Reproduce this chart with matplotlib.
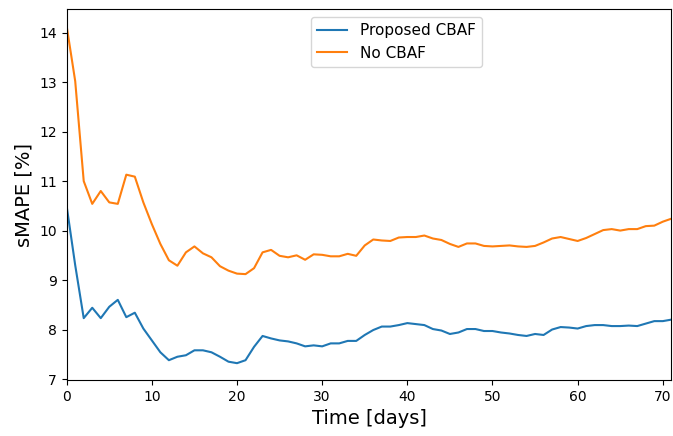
import numpy as np
import matplotlib
matplotlib.use("Agg")
import matplotlib.pyplot as plt

days = np.arange(0, 72)

smape_cbaf = [
    10.49, 9.30, 8.23, 8.44, 8.23, 8.46, 8.60, 8.25, 8.34, 8.02,
    7.78, 7.54, 7.38, 7.45, 7.48, 7.58, 7.58, 7.54, 7.45, 7.35,
    7.32, 7.38, 7.65, 7.87, 7.82, 7.78, 7.76, 7.72, 7.66, 7.68,
    7.66, 7.72, 7.72, 7.77, 7.77, 7.89, 7.99, 8.06, 8.06, 8.09,
    8.13, 8.11, 8.09, 8.01, 7.98, 7.91, 7.94, 8.01, 8.01, 7.97,
    7.97, 7.94, 7.92, 7.89, 7.87, 7.91, 7.89, 8.00, 8.05, 8.04,
    8.02, 8.07, 8.09, 8.09, 8.07, 8.07, 8.08, 8.07, 8.12, 8.17,
    8.17, 8.20,
]

smape_no_cbaf = [
    14.13, 13.02, 11.00, 10.54, 10.80, 10.57, 10.54, 11.13, 11.09, 10.57,
    10.13, 9.73, 9.40, 9.29, 9.56, 9.68, 9.54, 9.46, 9.28, 9.19,
    9.13, 9.12, 9.24, 9.56, 9.61, 9.49, 9.46, 9.50, 9.41, 9.52,
    9.51, 9.48, 9.48, 9.53, 9.49, 9.70, 9.82, 9.80, 9.79, 9.86,
    9.87, 9.87, 9.90, 9.84, 9.81, 9.73, 9.67, 9.74, 9.74, 9.69,
    9.68, 9.69, 9.70, 9.68, 9.67, 9.69, 9.76, 9.84, 9.87, 9.83,
    9.79, 9.85, 9.93, 10.01, 10.03, 10.00, 10.03, 10.03, 10.09, 10.10,
    10.18, 10.24,
]

fig = plt.figure(figsize=(6.73, 4.36), dpi=100)
ax = fig.add_axes([0.0991, 0.1284, 0.8984, 0.850])

ax.plot(days, smape_cbaf, label="Proposed CBAF")
ax.plot(days, smape_no_cbaf, label="No CBAF")

ax.set_xlim(0, 71)
ax.set_xlabel("Time [days]", fontsize=14)
ax.set_ylabel("sMAPE [%]", fontsize=14)
ax.legend(loc="upper center", bbox_to_anchor=(0.545, 1.0), fontsize=11)

fig.savefig("out.png", dpi=100)
